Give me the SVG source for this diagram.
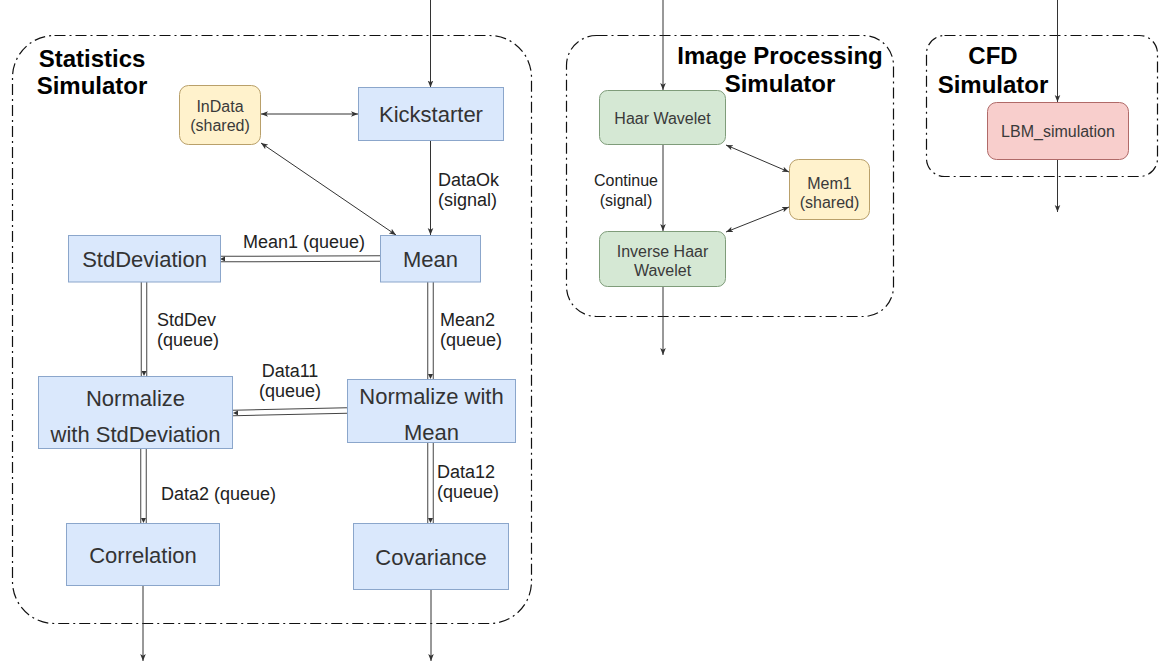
<svg xmlns="http://www.w3.org/2000/svg" width="1161" height="664" viewBox="0 0 1161 664">
  <defs>
    <style>
      .frame { fill: none; stroke: #111; stroke-width: 1.2; stroke-dasharray: 11 4 2 4; }
      .title { font-family: "Liberation Sans", Arial, sans-serif; font-size: 24px; font-weight: bold; fill: #000; text-anchor: middle; }
      .blue { fill: #dae8fc; stroke: #8ba6cb; stroke-width: 1; }
      .yellow { fill: #fff2cc; stroke: #b9a06a; stroke-width: 1; }
      .green { fill: #d5e8d4; stroke: #7f9c7a; stroke-width: 1; }
      .red { fill: #f8cecc; stroke: #b06a68; stroke-width: 1; }
      .big { font-family: "Liberation Sans", Arial, sans-serif; font-size: 22px; fill: #333; text-anchor: middle; }
      .small { font-family: "Liberation Sans", Arial, sans-serif; font-size: 16px; fill: #3a3a3a; text-anchor: middle; }
      .lbl { font-family: "Liberation Sans", Arial, sans-serif; font-size: 18px; fill: #222; }
      .lbl16 { font-family: "Liberation Sans", Arial, sans-serif; font-size: 16px; fill: #222; }
      .wire { fill: none; stroke: #333; stroke-width: 1; }
      .dbl-out { fill: none; stroke: #444; stroke-width: 6.5; }
      .dbl-in { fill: none; stroke: #fff; stroke-width: 4.5; }
    </style>
    <marker id="arr" viewBox="0 0 10 10" refX="10" refY="5" markerWidth="7" markerHeight="7" markerUnits="userSpaceOnUse" orient="auto-start-reverse">
      <path d="M0,1 L10,5 L0,9 L2.5,5 z" fill="#333"/>
    </marker>
    <marker id="arr-s" viewBox="0 0 10 10" refX="10" refY="5" markerWidth="5" markerHeight="5" markerUnits="userSpaceOnUse" orient="auto" preserveAspectRatio="none">
      <path d="M0,0 L10,5 L0,10 z" fill="#333"/>
    </marker>
  </defs>

  <rect width="1161" height="664" fill="#fff"/>

  <!-- Simulator frames -->
  <g id="statistics-simulator">
    <rect class="frame" x="12.5" y="35.5" width="519" height="588" rx="42"/>
    <text class="title" x="92" y="67">Statistics</text>
    <text class="title" x="92" y="94">Simulator</text>
  </g>
  <g id="image-processing-simulator">
    <rect class="frame" x="566.5" y="35.5" width="327" height="281" rx="30"/>
    <text class="title" x="780" y="64">Image Processing</text>
    <text class="title" x="780" y="92">Simulator</text>
  </g>
  <g id="cfd-simulator">
    <rect class="frame" x="926.5" y="35.5" width="231" height="141" rx="18"/>
    <text class="title" x="993" y="64">CFD</text>
    <text class="title" x="993" y="93">Simulator</text>
  </g>

  <!-- Connectors -->
  <g id="connectors">
    <path class="wire" d="M430.5,0 L430.5,87.5" marker-end="url(#arr)"/>
    <path class="wire" d="M261,114 L358,114" marker-start="url(#arr)" marker-end="url(#arr)"/>
    <path class="wire" d="M261,143 L396,235" marker-start="url(#arr)" marker-end="url(#arr)"/>
    <path class="wire" d="M430.5,141 L430.5,235" marker-end="url(#arr)"/>

    <!-- queue channels drawn as double lines -->
    <path class="dbl-out" d="M380,258.5 L220,259"/>
    <path class="dbl-in" d="M380,258.5 L220,259" marker-end="url(#arr-s)"/>
    <path class="dbl-out" d="M144,282 L144,376"/>
    <path class="dbl-in" d="M144,282 L144,376" marker-end="url(#arr-s)"/>
    <path class="dbl-out" d="M430.5,282 L430.5,379"/>
    <path class="dbl-in" d="M430.5,282 L430.5,379" marker-end="url(#arr-s)"/>
    <path class="dbl-out" d="M347,410.5 L233,413"/>
    <path class="dbl-in" d="M347,410.5 L233,413" marker-end="url(#arr-s)"/>
    <path class="dbl-out" d="M143.5,449 L143.5,523"/>
    <path class="dbl-in" d="M143.5,449 L143.5,523" marker-end="url(#arr-s)"/>
    <path class="dbl-out" d="M430.5,443 L430.5,523"/>
    <path class="dbl-in" d="M430.5,443 L430.5,523" marker-end="url(#arr-s)"/>

    <path class="wire" d="M143,586 L143,661" marker-end="url(#arr)"/>
    <path class="wire" d="M431,590 L431,661" marker-end="url(#arr)"/>

    <path class="wire" d="M663,0 L663,90" marker-end="url(#arr)"/>
    <path class="wire" d="M663,145 L663,231" marker-end="url(#arr)"/>
    <path class="wire" d="M726,145 L789,172" marker-start="url(#arr)" marker-end="url(#arr)"/>
    <path class="wire" d="M789,207 L726,232" marker-start="url(#arr)" marker-end="url(#arr)"/>
    <path class="wire" d="M663,287 L663,355" marker-end="url(#arr)"/>

    <path class="wire" d="M1057.5,0 L1057.5,102" marker-end="url(#arr)"/>
    <path class="wire" d="M1057.5,160 L1057.5,212" marker-end="url(#arr)"/>

    <text class="lbl" x="438" y="186">DataOk</text>
    <text class="lbl" x="438" y="206">(signal)</text>
    <text class="lbl" x="304" y="248" text-anchor="middle">Mean1 (queue)</text>
    <text class="lbl" x="157" y="326">StdDev</text>
    <text class="lbl" x="157" y="346">(queue)</text>
    <text class="lbl" x="440" y="326">Mean2</text>
    <text class="lbl" x="440" y="346">(queue)</text>
    <text class="lbl" x="290" y="377" text-anchor="middle">Data11</text>
    <text class="lbl" x="290" y="397" text-anchor="middle">(queue)</text>
    <text class="lbl" x="161" y="500">Data2 (queue)</text>
    <text class="lbl" x="437" y="478">Data12</text>
    <text class="lbl" x="437" y="498">(queue)</text>
    <text class="lbl16" x="626" y="185.5" text-anchor="middle">Continue</text>
    <text class="lbl16" x="626" y="205.5" text-anchor="middle">(signal)</text>
  </g>

  <!-- Statistics nodes -->
  <g id="indata">
    <rect class="yellow" x="179.5" y="85.5" width="81" height="59" rx="9"/>
    <text class="small" x="220" y="111.5">InData</text>
    <text class="small" x="220" y="130.5">(shared)</text>
  </g>
  <g id="kickstarter">
    <rect class="blue" x="358.5" y="87.5" width="145" height="53"/>
    <text class="big" x="431" y="121.5">Kickstarter</text>
  </g>
  <g id="stddeviation">
    <rect class="blue" x="68.5" y="235.5" width="152" height="46.5"/>
    <text class="big" x="144.5" y="266.5">StdDeviation</text>
  </g>
  <g id="mean">
    <rect class="blue" x="380.5" y="235.5" width="100" height="46.5"/>
    <text class="big" x="430.5" y="266.5">Mean</text>
  </g>
  <g id="normalize-stddeviation">
    <rect class="blue" x="38.5" y="376.5" width="194" height="72"/>
    <text class="big" x="135.5" y="405.5">Normalize</text>
    <text class="big" x="135.5" y="441.5">with StdDeviation</text>
  </g>
  <g id="normalize-mean">
    <rect class="blue" x="347.5" y="379.5" width="168" height="63"/>
    <text class="big" x="431.5" y="403.5">Normalize with</text>
    <text class="big" x="431.5" y="439.5">Mean</text>
  </g>
  <g id="correlation">
    <rect class="blue" x="66.5" y="523.5" width="153" height="62"/>
    <text class="big" x="143" y="562.5">Correlation</text>
  </g>
  <g id="covariance">
    <rect class="blue" x="353.5" y="523.5" width="155" height="66"/>
    <text class="big" x="431" y="564.5">Covariance</text>
  </g>

  <!-- Image processing nodes -->
  <g id="haar-wavelet">
    <rect class="green" x="599.5" y="90.5" width="126" height="54" rx="8"/>
    <text class="small" x="662.5" y="123.5">Haar Wavelet</text>
  </g>
  <g id="inverse-haar-wavelet">
    <rect class="green" x="599.5" y="231.5" width="126" height="55" rx="8"/>
    <text class="small" x="662.5" y="256.5">Inverse Haar</text>
    <text class="small" x="662.5" y="275.5">Wavelet</text>
  </g>
  <g id="mem1">
    <rect class="yellow" x="789.5" y="159.5" width="80" height="60" rx="9"/>
    <text class="small" x="829.5" y="188.5">Mem1</text>
    <text class="small" x="829.5" y="207.5">(shared)</text>
  </g>

  <!-- CFD node -->
  <g id="lbm-simulation">
    <rect class="red" x="987.5" y="102.5" width="141" height="57" rx="9"/>
    <text class="small" x="1058" y="136.5">LBM_simulation</text>
  </g>
</svg>
